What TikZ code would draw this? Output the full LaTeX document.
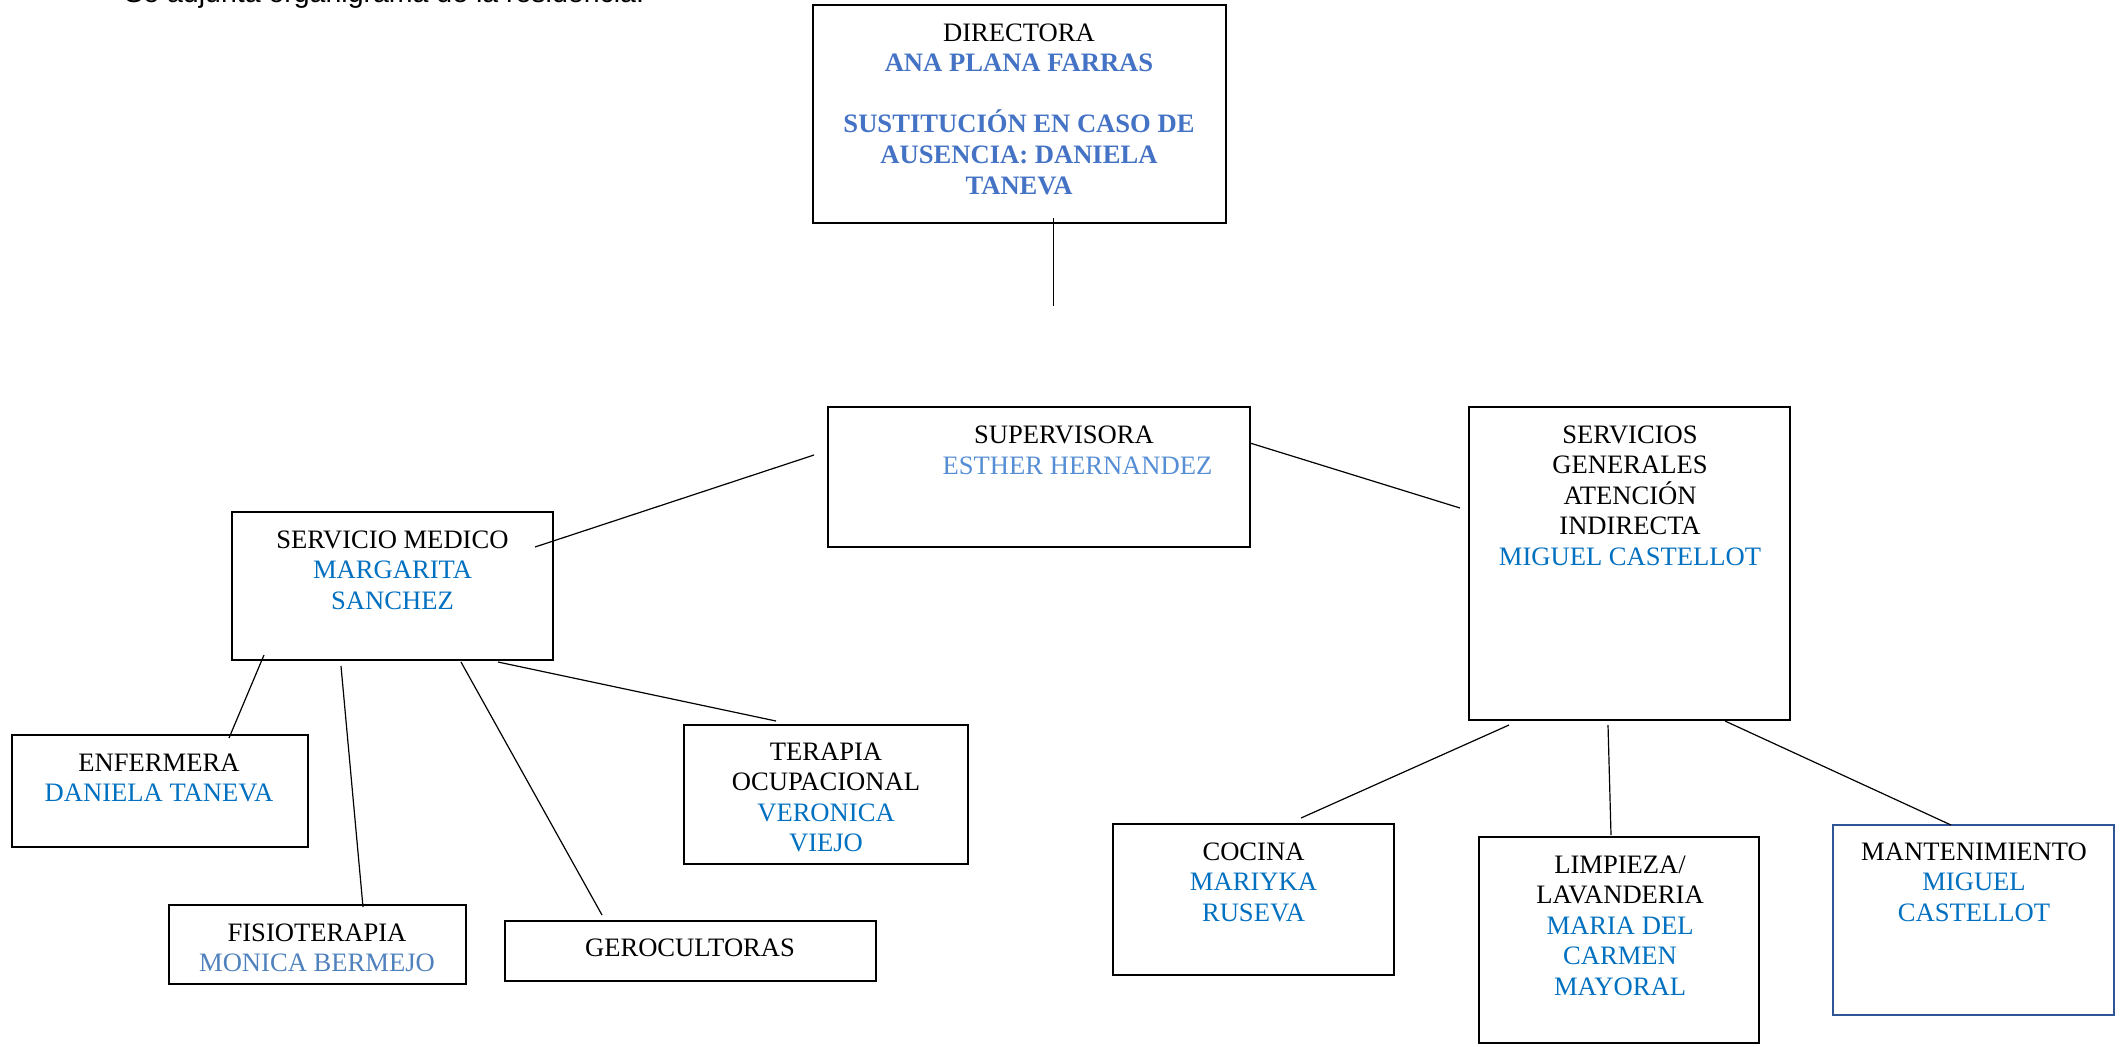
\documentclass[tikz,border=0pt]{standalone}
\usepackage{fontspec}
\setmainfont{Liberation Serif}
\newfontfamily\sansf{Liberation Sans}
\definecolor{blueA}{HTML}{4472C4}
\definecolor{blueB}{HTML}{558ED5}
\definecolor{blueC}{HTML}{0070C0}
\definecolor{blueD}{HTML}{4F81BD}
\definecolor{manblue}{HTML}{2F5597}
\newcommand\mlines[1]{\vtop{\halign{\hfil##\hfil\cr#1\crcr}}}
\begin{document}
\begin{tikzpicture}[x=0.5pt,y=-0.5pt,
  box/.style={draw=black, line width=1.2pt, inner sep=0pt, outer sep=0pt, anchor=north west},
  conn/.style={draw=black, line width=0.6pt},
  txt/.style={inner sep=0pt, anchor=base, font=\fontsize{13.3}{15.3}\selectfont}]
\useasboundingbox (0,0) rectangle (2123,1046);
\fill[white] (0,0) rectangle (2123,1046);

% header text (cut at the top of the page, as in the reference)
\node[inner sep=0pt, anchor=base west, font=\sansf\fontsize{14.25}{16}\selectfont] (head) at (124,2.5) {Se adjunta organigrama de la residencia.};

% boxes
\node[box, minimum width=206.5pt, minimum height=109pt] (dir) at (813,5) {};
\node[box, minimum width=211pt, minimum height=70pt] (sup) at (828,407) {};
\node[box, minimum width=160.5pt, minimum height=156.5pt] (sg) at (1469,407) {};
\node[box, minimum width=160.5pt, minimum height=74pt] (med) at (232,512) {};
\node[box, minimum width=148pt, minimum height=56pt] (enf) at (12,735) {};
\node[box, minimum width=148.5pt, minimum height=39.5pt] (fis) at (169,905) {};
\node[box, minimum width=185.5pt, minimum height=30pt] (ger) at (505,921) {};
\node[box, minimum width=142pt, minimum height=69.5pt] (ter) at (684,725) {};
\node[box, minimum width=140.5pt, minimum height=75.5pt] (coc) at (1113,824) {};
\node[box, minimum width=140pt, minimum height=103pt] (lim) at (1479,837) {};
\node[box, draw=manblue, minimum width=140.5pt, minimum height=95pt] (man) at (1833,825) {};

% texts
\node[txt] (dirT) at (1019,41) {\mlines{DIRECTORA\cr
  \textbf{\textcolor{blueA}{ANA PLANA FARRAS}}\cr
  \cr
  \textbf{\textcolor{blueA}{SUSTITUCIÓN EN CASO DE}}\cr
  \textbf{\textcolor{blueA}{AUSENCIA: DANIELA}}\cr
  \textbf{\textcolor{blueA}{TANEVA}}}};
\node[txt] (supT1) at (1064,443) {SUPERVISORA};
\node[txt, text=blueB] (supT2) at (1077.5,474) {ESTHER HERNANDEZ};
\node[txt] (sgT) at (1630,443) {\mlines{SERVICIOS\cr GENERALES\cr ATENCIÓN\cr INDIRECTA\cr
  \textcolor{blueC}{MIGUEL CASTELLOT}}};
\node[txt] (medT) at (392.5,548) {\mlines{SERVICIO MEDICO\cr
  \textcolor{blueC}{MARGARITA}\cr \textcolor{blueC}{SANCHEZ}}};
\node[txt] (enfT) at (159,771) {\mlines{ENFERMERA\cr \textcolor{blueC}{DANIELA TANEVA}}};
\node[txt] (fisT) at (317,941) {\mlines{FISIOTERAPIA\cr \textcolor{blueD}{MONICA BERMEJO}}};
\node[txt] (gerT) at (690,956) {GEROCULTORAS};
\node[txt] (terT) at (826,760) {\mlines{TERAPIA\cr OCUPACIONAL\cr
  \textcolor{blueC}{VERONICA}\cr \textcolor{blueC}{VIEJO}}};
\node[txt] (cocT) at (1253.5,860) {\mlines{COCINA\cr \textcolor{blueC}{MARIYKA}\cr \textcolor{blueC}{RUSEVA}}};
\node[txt] (limT) at (1620,873) {\mlines{LIMPIEZA/\cr LAVANDERIA\cr
  \textcolor{blueC}{MARIA DEL}\cr \textcolor{blueC}{CARMEN}\cr \textcolor{blueC}{MAYORAL}}};
\node[txt] (manT) at (1974,860) {\mlines{MANTENIMIENTO\cr
  \textcolor{blueC}{MIGUEL}\cr \textcolor{blueC}{CASTELLOT}}};

% connector end points
\coordinate (dirA) at (1053.5,218);  \coordinate (dirB) at (1053.5,306);
\coordinate (supL) at (814,455);     \coordinate (medA) at (535,547);
\coordinate (supR) at (1250,443);    \coordinate (sgA) at (1460,508);
\coordinate (med1) at (264,655);     \coordinate (enfA) at (229,738);
\coordinate (med2) at (341,666);     \coordinate (fisA) at (363,907);
\coordinate (med3) at (461,662);     \coordinate (gerA) at (602,915);
\coordinate (med4) at (498,662);     \coordinate (terA) at (776,721);
\coordinate (sg1) at (1509,725);     \coordinate (cocA) at (1301,818);
\coordinate (sg2) at (1608,725);     \coordinate (limA) at (1611,835);
\coordinate (sg3) at (1725,721);     \coordinate (manA) at (1951,825);

% connectors
\draw[conn] (dirA) -- (dirB);
\draw[conn] (supL) -- (medA);
\draw[conn] (supR) -- (sgA);
\draw[conn] (med1) -- (enfA);
\draw[conn] (med2) -- (fisA);
\draw[conn] (med3) -- (gerA);
\draw[conn] (med4) -- (terA);
\draw[conn] (sg1) -- (cocA);
\draw[conn] (sg2) -- (limA);
\draw[conn] (sg3) -- (manA);
\end{tikzpicture}
\end{document}
